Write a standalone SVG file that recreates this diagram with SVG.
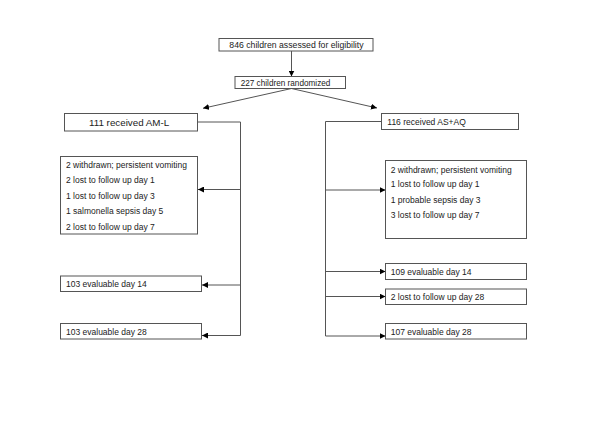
<svg xmlns="http://www.w3.org/2000/svg" width="600" height="424" viewBox="0 0 600 424">
<style>
.box{fill:#fff;stroke:#555;stroke-width:1}
.t{font-family:"Liberation Sans",Arial,sans-serif;font-size:8.5px;fill:#222}
.c{fill:none;stroke:#555;stroke-width:1}
</style>
<defs>
<marker id="ah" markerUnits="userSpaceOnUse" markerWidth="7" markerHeight="6" refX="6" refY="3" orient="auto">
<path d="M0,0 L6,3 L0,6 z" fill="#000"/>
</marker>
</defs>
<rect width="600" height="424" fill="#fff"/>
<g id="connectors">
<line class="c" x1="291.5" y1="51" x2="291.5" y2="76.5" marker-end="url(#ah)"/>
<line class="c" x1="291.5" y1="88.5" x2="203" y2="108.3" marker-end="url(#ah)"/>
<line class="c" x1="291.5" y1="88.5" x2="377" y2="108" marker-end="url(#ah)"/>
<polyline class="c" points="197.5,122 240.5,122 240.5,335.5 202,335.5" marker-end="url(#ah)"/>
<line class="c" x1="240.5" y1="189.5" x2="198" y2="189.5" marker-end="url(#ah)"/>
<line class="c" x1="240.5" y1="285" x2="202" y2="285" marker-end="url(#ah)"/>
<polyline class="c" points="381.5,121.5 325.5,121.5 325.5,336 385.5,336" marker-end="url(#ah)"/>
<line class="c" x1="325.5" y1="190" x2="385.5" y2="190" marker-end="url(#ah)"/>
<line class="c" x1="325.5" y1="271.5" x2="385.5" y2="271.5" marker-end="url(#ah)"/>
<line class="c" x1="325.5" y1="296.5" x2="385.5" y2="296.5" marker-end="url(#ah)"/>
</g>
<g id="assessed">
<rect class="box" x="219" y="38.5" width="154" height="12.5"/>
<text class="t" x="229.3" y="48" style="font-size:8.7px">846 children assessed for eligibility</text>
</g>
<g id="randomized">
<rect class="box" x="235" y="76.5" width="110.5" height="12"/>
<text class="t" x="240.7" y="85.5" style="font-size:8.2px">227 children randomized</text>
</g>
<g id="aml">
<rect class="box" x="64.5" y="113.5" width="133" height="17.5"/>
<text class="t" x="89" y="125.8" style="font-size:9.8px">111 received AM-L</text>
</g>
<g id="asaq">
<rect class="box" x="381.5" y="113.5" width="137" height="16"/>
<text class="t" x="387.3" y="124.5">116 received AS+AQ</text>
</g>
<g id="aml-losses">
<rect class="box" x="60.5" y="156.5" width="137" height="77.5"/>
<text class="t" x="66" y="168">2 withdrawn; persistent vomiting</text>
<text class="t" x="66" y="183">2 lost to follow up day 1</text>
<text class="t" x="66" y="199">1 lost to follow up day 3</text>
<text class="t" x="66" y="214">1 salmonella sepsis day 5</text>
<text class="t" x="66" y="229.5">2 lost to follow up day 7</text>
</g>
<g id="asaq-losses">
<rect class="box" x="385.5" y="160.5" width="141" height="78"/>
<text class="t" x="390.7" y="173">2 withdrawn; persistent vomiting</text>
<text class="t" x="390.7" y="187">1 lost to follow up day 1</text>
<text class="t" x="390.7" y="202.5">1 probable sepsis day 3</text>
<text class="t" x="390.7" y="218">3 lost to follow up day 7</text>
</g>
<g id="aml-d14">
<rect class="box" x="60.5" y="276" width="141" height="15.5"/>
<text class="t" x="66" y="287">103 evaluable day 14</text>
</g>
<g id="aml-d28">
<rect class="box" x="60.5" y="323.5" width="141" height="15.5"/>
<text class="t" x="66" y="334.5">103 evaluable day 28</text>
</g>
<g id="asaq-d14">
<rect class="box" x="385.5" y="263.5" width="141" height="16"/>
<text class="t" x="390.7" y="274.5">109 evaluable day 14</text>
</g>
<g id="asaq-lost28">
<rect class="box" x="385.5" y="289" width="141" height="15.5"/>
<text class="t" x="390.7" y="300">2 lost to follow up day 28</text>
</g>
<g id="asaq-d28">
<rect class="box" x="385.5" y="323.5" width="141" height="15.5"/>
<text class="t" x="390.7" y="334.5">107 evaluable day 28</text>
</g>
</svg>
